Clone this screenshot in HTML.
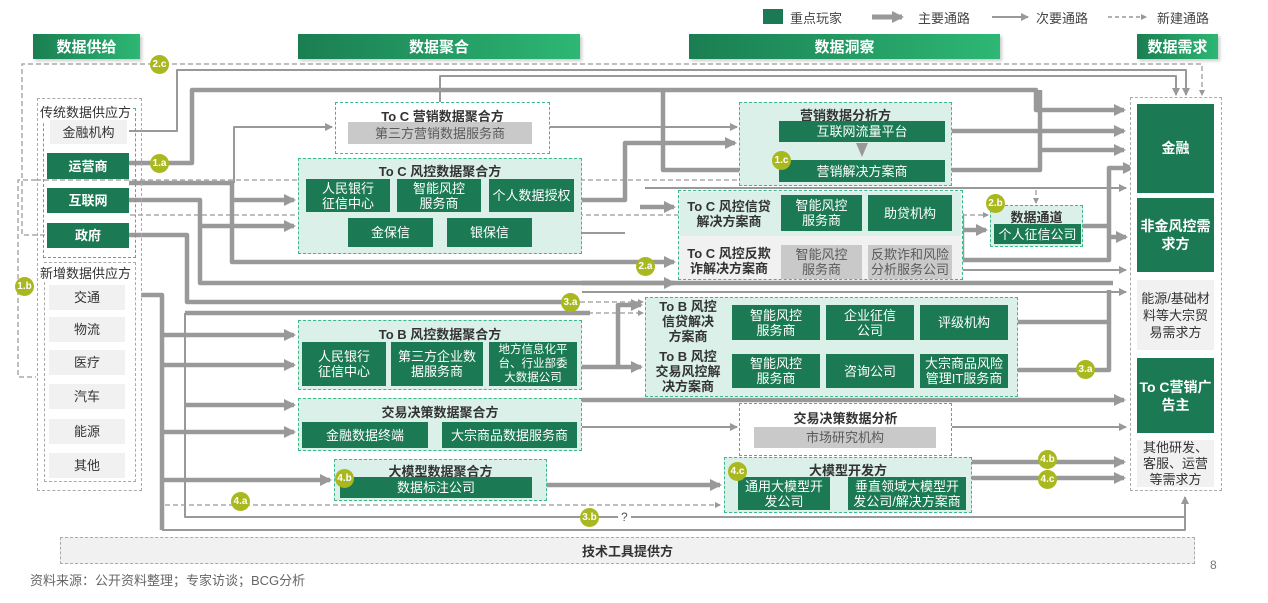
<!DOCTYPE html>
<html><head><meta charset="utf-8">
<style>
*{margin:0;padding:0;box-sizing:border-box}
body{width:1268px;height:603px;background:#fff;position:relative;overflow:hidden;font-family:"Liberation Sans","Noto Sans CJK SC",sans-serif}
.a{position:absolute}
.g{position:absolute;background:#1b7a54;color:#fff;display:flex;align-items:center;justify-content:center;text-align:center;font-size:13px;line-height:15px}
.lg{position:absolute;background:#f1f1f1;color:#333;display:flex;align-items:center;justify-content:center;text-align:center;font-size:13px;line-height:15px}
.dg{position:absolute;background:#c9c9c9;color:#5a5a5a;display:flex;align-items:center;justify-content:center;text-align:center;font-size:13px;line-height:15px}
.box{position:absolute;border:1.5px dashed #3cb98a;background:#daf0e9}
.wbox{position:absolute;border:1.5px dashed #3cb98a;background:#fff}
.t{position:absolute;font-size:13px;font-weight:bold;color:#333;text-align:center;white-space:nowrap}
.hd{position:absolute;height:25px;background:linear-gradient(90deg,#1a7e52,#2db774);color:#fff;font-size:15px;font-weight:bold;display:flex;align-items:center;justify-content:center;box-shadow:2px 2px 3px #ccc}
.bd{position:absolute;width:19px;height:19px;border-radius:50%;background:#a9b81f;color:#fff;font-size:10px;display:flex;align-items:center;justify-content:center;font-weight:bold}
svg{position:absolute;left:0;top:0}
</style></head><body>

<!-- legend -->
<div class="a" style="left:763px;top:9px;width:20px;height:15px;background:#1b7a54"></div>
<div class="a" style="left:790px;top:8px;font-size:13px;color:#444">重点玩家</div>
<div class="a" style="left:918px;top:8px;font-size:13px;color:#444">主要通路</div>
<div class="a" style="left:1036px;top:8px;font-size:13px;color:#444">次要通路</div>
<div class="a" style="left:1157px;top:8px;font-size:13px;color:#444">新建通路</div>

<div class="hd" style="left:33px;top:34px;width:107px">数据供给</div>
<div class="hd" style="left:298px;top:34px;width:282px">数据聚合</div>
<div class="hd" style="left:689px;top:34px;width:311px">数据洞察</div>
<div class="hd" style="left:1137px;top:34px;width:81px">数据需求</div>

<svg width="1268" height="603">
<defs>
<marker id="m" markerWidth="6" markerHeight="6" refX="5" refY="3" orient="auto" markerUnits="userSpaceOnUse"><path d="M0,0L6,3L0,6z" fill="#999"/></marker>
<marker id="M" markerWidth="12" markerHeight="12" refX="10" refY="6" orient="auto" markerUnits="userSpaceOnUse"><path d="M0,0L12,6L0,12z" fill="#999"/></marker>
<marker id="s" markerWidth="8" markerHeight="8" refX="7" refY="4" orient="auto" markerUnits="userSpaceOnUse"><path d="M0,0L8,4L0,8z" fill="#999"/></marker>
</defs>
<g fill="none" stroke="#999" stroke-linejoin="round">
<!-- legend lines -->
<line x1="872" y1="17" x2="902" y2="17" stroke-width="5" marker-end="url(#M)"/>
<line x1="992" y1="17" x2="1028" y2="17" stroke-width="2" marker-end="url(#s)"/>
<line x1="1108" y1="17" x2="1146" y2="17" stroke-width="1.5" stroke-dasharray="4,3" marker-end="url(#m)"/>

<!-- dashed new paths -->
<g stroke-width="1.5" stroke-dasharray="5,3" stroke="#aaa">
<polyline points="45,235 22,235 22,64 1202,64 1202,95" marker-end="url(#m)"/>
<polyline points="36,180 18,180 18,377 36,377"/>
<polyline points="36,180 776,180" marker-end="url(#m)"/>
<polyline points="130,215 988,215" marker-end="url(#m)"/>
<polyline points="580,302 643,302" marker-end="url(#m)"/>
<polyline points="580,313 643,313" marker-end="url(#m)"/>
<polyline points="165,505 720,505" marker-end="url(#m)"/>
<polyline points="1036,190 1036,203" marker-end="url(#m)"/>
</g>

<!-- thin paths -->
<g stroke-width="2">
<polyline points="129,131 177,131 177,70 1186,70 1186,95" marker-end="url(#s)"/>
<polyline points="440,102 440,76 1176,76 1176,95" marker-end="url(#s)"/>
<polyline points="234,183 234,127 332,127" marker-end="url(#s)"/>
<polyline points="550,127 737,127" marker-end="url(#s)"/>
<polyline points="434,233 625,233"/>
<polyline points="645,188 1126,188" marker-end="url(#s)"/>
<polyline points="963,270 1126,270" marker-end="url(#s)"/>
<polyline points="582,292 1126,292" marker-end="url(#s)"/>
<polyline points="582,427 737,427" marker-end="url(#s)"/>
<polyline points="952,427 1126,427" marker-end="url(#s)"/>
<polyline points="185,313 185,517 1185,517"/>
<polyline points="162,530 1185,530 1185,497" marker-end="url(#s)"/>
<polyline points="830,493 846,493" marker-end="url(#m)"/>
</g>

<!-- thick paths -->
<g stroke-width="4.5">
<polyline points="129,163 192,163 192,90 1036,90 1036,110 1124,110" marker-end="url(#M)"/>
<polyline points="129,183 232,183 232,200 294,200" marker-end="url(#M)"/>
<polyline points="129,200 200,200 200,226 294,226" marker-end="url(#M)"/>
<polyline points="200,226 200,283 1113,283"/>
<polyline points="232,200 232,262 640,262"/>
<polyline points="129,235 187,235 187,302 570,302"/>
<polyline points="141,295 162,295 162,530"/>
<polyline points="185,313 590,313"/>
<polyline points="162,335 294,335" marker-end="url(#M)"/>
<polyline points="162,365 294,365" marker-end="url(#M)"/>
<polyline points="185,405 294,405" marker-end="url(#M)"/>
<polyline points="162,432 294,432" marker-end="url(#M)"/>
<polyline points="162,480 330,480" marker-end="url(#M)"/>
<polyline points="663,90 663,170 775,170" marker-end="url(#M)"/>
<polyline points="574,200 625,200 625,143 735,143" marker-end="url(#M)"/>
<polyline points="945,131 1124,131" marker-end="url(#M)"/>
<polyline points="1040,150 1124,150" marker-end="url(#M)"/>
<polyline points="945,170 1040,170 1040,90"/>
<polyline points="640,207 674,207" marker-end="url(#M)"/>
<polyline points="640,262 674,262" marker-end="url(#M)"/>
<polyline points="582,283 674,283" marker-end="url(#M)"/>
<polyline points="952,215 962,215 962,260 1109,260 1109,168 1133,168" marker-end="url(#M)"/>
<polyline points="963,230 986,230" marker-end="url(#M)"/>
<polyline points="1083,226 1109,226"/>
<polyline points="1109,237 1126,237" marker-end="url(#M)"/>
<polyline points="1018,322 1109,322 1109,290"/>
<polyline points="1018,370 1109,370 1109,322"/>
<polyline points="582,367 618,367 618,305 641,305" marker-end="url(#M)"/>
<polyline points="618,367 641,367" marker-end="url(#M)"/>
<polyline points="582,400 1124,400" marker-end="url(#M)"/>
<polyline points="547,485 720,485" marker-end="url(#M)"/>
<polyline points="972,462 1124,462" marker-end="url(#M)"/>
<polyline points="972,478 1124,478" marker-end="url(#M)"/>
</g>
</g>
</svg>

<!-- left supply -->
<div class="a" style="left:37px;top:98px;width:105px;height:393px;border:1.5px dashed #aaa"></div>
<div class="a" style="left:43px;top:108px;width:93px;height:150px;border:1.5px dashed #3cb98a"></div>
<div class="a" style="left:40px;top:102px;font-size:13px;color:#333;background:#fff">传统数据供应方</div>
<div class="lg" style="left:50px;top:120px;width:77px;height:24px">金融机构</div>
<div class="g" style="left:47px;top:153px;width:82px;height:26px;font-weight:bold">运营商</div>
<div class="g" style="left:47px;top:188px;width:82px;height:25px;font-weight:bold">互联网</div>
<div class="g" style="left:47px;top:223px;width:82px;height:25px;font-weight:bold">政府</div>
<div class="a" style="left:44px;top:262px;width:92px;height:220px;border:1.5px dashed #aaa"></div>
<div class="a" style="left:40px;top:263px;font-size:13px;color:#333;background:#fff">新增数据供应方</div>
<div class="lg" style="left:49px;top:285px;width:76px;height:25px">交通</div>
<div class="lg" style="left:49px;top:317px;width:76px;height:25px">物流</div>
<div class="lg" style="left:49px;top:350px;width:76px;height:25px">医疗</div>
<div class="lg" style="left:49px;top:384px;width:76px;height:25px">汽车</div>
<div class="lg" style="left:49px;top:419px;width:76px;height:25px">能源</div>
<div class="lg" style="left:49px;top:453px;width:76px;height:25px">其他</div>

<!-- aggregation -->
<div class="wbox" style="left:335px;top:102px;width:215px;height:52px"></div>
<div class="t" style="left:335px;top:106px;width:215px">To C 营销数据聚合方</div>
<div class="dg" style="left:348px;top:122px;width:184px;height:22px">第三方营销数据服务商</div>

<div class="box" style="left:298px;top:158px;width:284px;height:96px"></div>
<div class="t" style="left:298px;top:161px;width:284px">To C 风控数据聚合方</div>
<div class="g" style="left:306px;top:179px;width:84px;height:33px">人民银行<br>征信中心</div>
<div class="g" style="left:397px;top:179px;width:84px;height:33px">智能风控<br>服务商</div>
<div class="g" style="left:489px;top:179px;width:85px;height:33px">个人数据授权</div>
<div class="g" style="left:348px;top:218px;width:85px;height:29px">金保信</div>
<div class="g" style="left:447px;top:218px;width:85px;height:29px">银保信</div>

<div class="box" style="left:298px;top:320px;width:284px;height:70px"></div>
<div class="t" style="left:298px;top:324px;width:284px">To B 风控数据聚合方</div>
<div class="g" style="left:302px;top:342px;width:84px;height:44px">人民银行<br>征信中心</div>
<div class="g" style="left:391px;top:342px;width:92px;height:44px">第三方企业数<br>据服务商</div>
<div class="g" style="left:489px;top:342px;width:88px;height:44px;font-size:11.5px;line-height:14px">地方信息化平<br>台、行业部委<br>大数据公司</div>

<div class="box" style="left:298px;top:398px;width:284px;height:53px"></div>
<div class="t" style="left:298px;top:402px;width:284px">交易决策数据聚合方</div>
<div class="g" style="left:302px;top:422px;width:126px;height:26px">金融数据终端</div>
<div class="g" style="left:442px;top:422px;width:135px;height:26px">大宗商品数据服务商</div>

<div class="box" style="left:334px;top:459px;width:213px;height:42px"></div>
<div class="t" style="left:334px;top:461px;width:213px">大模型数据聚合方</div>
<div class="g" style="left:340px;top:477px;width:192px;height:21px">数据标注公司</div>

<!-- insight -->
<div class="box" style="left:739px;top:102px;width:213px;height:84px"></div>
<div class="t" style="left:739px;top:105px;width:213px">营销数据分析方</div>
<div class="g" style="left:779px;top:121px;width:166px;height:21px">互联网流量平台</div>
<div class="a" style="left:856px;top:143px;width:0;height:0;border-left:6px solid transparent;border-right:6px solid transparent;border-top:14px solid #999"></div>
<div class="g" style="left:779px;top:160px;width:166px;height:22px">营销解决方案商</div>

<div class="box" style="left:678px;top:190px;width:285px;height:90px;background:#f1f1f1"></div>
<div class="a" style="left:680px;top:192px;width:281px;height:44px;background:#daf0e9"></div>
<div class="t" style="left:681px;top:199px;width:96px;line-height:15px">To C 风控信贷<br>解决方案商</div>
<div class="g" style="left:781px;top:195px;width:81px;height:36px">智能风控<br>服务商</div>
<div class="g" style="left:868px;top:195px;width:84px;height:36px">助贷机构</div>
<div class="t" style="left:681px;top:246px;width:96px;line-height:15px">To C 风控反欺<br>诈解决方案商</div>
<div class="dg" style="left:781px;top:245px;width:81px;height:34px">智能风控<br>服务商</div>
<div class="dg" style="left:868px;top:245px;width:84px;height:34px">反欺诈和风险<br>分析服务公司</div>

<div class="box" style="left:990px;top:205px;width:93px;height:42px"></div>
<div class="t" style="left:990px;top:207px;width:93px">数据通道</div>
<div class="g" style="left:994px;top:224px;width:87px;height:20px">个人征信公司</div>

<div class="box" style="left:645px;top:297px;width:373px;height:100px"></div>
<div class="t" style="left:650px;top:299px;width:76px;line-height:15px">To B 风控<br>信贷解决<br>方案商</div>
<div class="g" style="left:732px;top:305px;width:88px;height:35px">智能风控<br>服务商</div>
<div class="g" style="left:826px;top:305px;width:88px;height:35px">企业征信<br>公司</div>
<div class="g" style="left:920px;top:305px;width:88px;height:35px">评级机构</div>
<div class="t" style="left:650px;top:349px;width:76px;line-height:15px">To B 风控<br>交易风控解<br>决方案商</div>
<div class="g" style="left:732px;top:354px;width:88px;height:34px">智能风控<br>服务商</div>
<div class="g" style="left:826px;top:354px;width:88px;height:34px">咨询公司</div>
<div class="g" style="left:920px;top:354px;width:88px;height:34px">大宗商品风险<br>管理IT服务商</div>

<div class="wbox" style="left:739px;top:403px;width:213px;height:53px"></div>
<div class="t" style="left:739px;top:408px;width:213px">交易决策数据分析</div>
<div class="dg" style="left:754px;top:427px;width:182px;height:21px">市场研究机构</div>

<div class="box" style="left:724px;top:457px;width:248px;height:56px"></div>
<div class="t" style="left:724px;top:460px;width:248px">大模型开发方</div>
<div class="g" style="left:738px;top:477px;width:92px;height:33px">通用大模型开<br>发公司</div>
<div class="g" style="left:848px;top:477px;width:118px;height:33px">垂直领域大模型开<br>发公司/解决方案商</div>

<!-- demand -->
<div class="a" style="left:1130px;top:97px;width:92px;height:394px;border:1.5px dashed #aaa;background:#fff"></div>
<div class="g" style="left:1137px;top:104px;width:77px;height:89px;font-weight:bold;font-size:14px">金融</div>
<div class="g" style="left:1137px;top:198px;width:77px;height:74px;font-weight:bold;font-size:14px;line-height:18px">非金风控需<br>求方</div>
<div class="lg" style="left:1137px;top:280px;width:77px;height:70px;line-height:17px">能源/基础材<br>料等大宗贸<br>易需求方</div>
<div class="g" style="left:1137px;top:358px;width:77px;height:75px;font-weight:bold;font-size:14px;line-height:18px">To C营销广<br>告主</div>
<div class="lg" style="left:1137px;top:440px;width:77px;height:47px;line-height:16px">其他研发、<br>客服、运营<br>等需求方</div>

<!-- bottom -->
<div class="a" style="left:60px;top:537px;width:1135px;height:27px;border:1.5px dashed #aaa;background:#f1f1f1;font-size:13px;font-weight:bold;color:#333;display:flex;align-items:center;justify-content:center">技术工具提供方</div>
<div class="a" style="left:30px;top:570px;font-size:13px;color:#666">资料来源：公开资料整理；专家访谈；BCG分析</div>
<div class="a" style="left:1210px;top:558px;font-size:12px;color:#777">8</div>
<div class="a" style="left:618px;top:510px;font-size:12px;color:#555;background:#fff;padding:0 3px">?</div>

<!-- badges -->
<div class="bd" style="left:150px;top:55px">2.c</div>
<div class="bd" style="left:150px;top:154px">1.a</div>
<div class="bd" style="left:15px;top:277px">1.b</div>
<div class="bd" style="left:772px;top:151px">1.c</div>
<div class="bd" style="left:986px;top:194px">2.b</div>
<div class="bd" style="left:636px;top:257px">2.a</div>
<div class="bd" style="left:561px;top:293px">3.a</div>
<div class="bd" style="left:1076px;top:360px">3.a</div>
<div class="bd" style="left:231px;top:492px">4.a</div>
<div class="bd" style="left:580px;top:508px">3.b</div>
<div class="bd" style="left:335px;top:469px">4.b</div>
<div class="bd" style="left:728px;top:462px">4.c</div>
<div class="bd" style="left:1038px;top:450px">4.b</div>
<div class="bd" style="left:1038px;top:470px">4.c</div>
</body></html>
